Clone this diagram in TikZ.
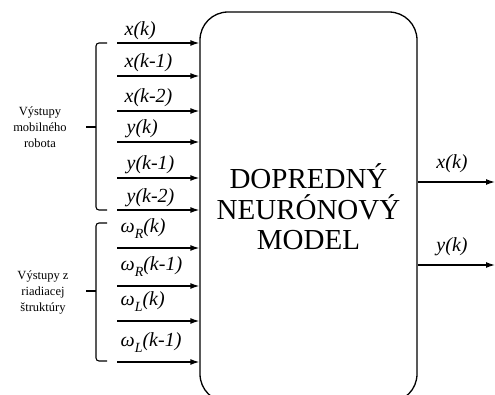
\documentclass[tikz,border=0pt]{standalone}
\usepackage{fontspec}
\setmainfont{Liberation Serif}
\usetikzlibrary{arrows.meta}
\newcommand{\wsub}[1]{\raisebox{-6pt}{\fontsize{14}{14}\selectfont #1}}

\begin{document}
\begin{tikzpicture}[x=1pt,y=-1pt,line width=1.3pt,
  >={Latex[length=9pt,width=6pt]},
  sig/.style={anchor=base west,inner sep=0pt,font=\fontsize{20}{20}\selectfont\itshape},
  grp/.style={align=center,inner sep=0pt,font=\fontsize{12.5}{16}\selectfont}]
\useasboundingbox (0,0) rectangle (495,394);
\clip (0,0) rectangle (495,394);
\node[draw,rounded corners=28pt,minimum width=217pt,minimum height=390pt,inner sep=0pt,
  align=center,font=\fontsize{29}{30.5}\selectfont] (model) at (308.5,207)
  {DOPREDNÝ\\NEURÓNOVÝ\\MODEL};
% vstupy
\coordinate (in1) at (117,43);
\coordinate (in2) at (117,76);
\coordinate (in3) at (117,111);
\coordinate (in4) at (117,142);
\coordinate (in5) at (117,178);
\coordinate (in6) at (117,210);
\coordinate (in7) at (117,248);
\coordinate (in8) at (117,286);
\coordinate (in9) at (117,321);
\coordinate (in10) at (117,362);
\draw[->] (in1) -- (in1 -| model.west);
\draw[->] (in2) -- (in2 -| model.west);
\draw[->] (in3) -- (in3 -| model.west);
\draw[->] (in4) -- (in4 -| model.west);
\draw[->] (in5) -- (in5 -| model.west);
\draw[->] (in6) -- (in6 -| model.west);
\draw[->] (in7) -- (in7 -| model.west);
\draw[->] (in8) -- (in8 -| model.west);
\draw[->] (in9) -- (in9 -| model.west);
\draw[->] (in10) -- (in10 -| model.west);
\node[sig] (lx0) at (124,35) {x(k)};
\node[sig] (lx1) at (124,67) {x(k-1)};
\node[sig] (lx2) at (124,102) {x(k-2)};
\node[sig] (ly0) at (126,133) {y(k)};
\node[sig] (ly1) at (126,169) {y(k-1)};
\node[sig] (ly2) at (126,202) {y(k-2)};
\node[sig] (lwr0) at (120,232) {ω\wsub{R}(k)};
\node[sig] (lwr1) at (120,270) {ω\wsub{R}(k-1)};
\node[sig] (lwl0) at (120,305) {ω\wsub{L}(k)};
\node[sig] (lwl1) at (120,346) {ω\wsub{L}(k-1)};
% zatvorky
\draw[line width=1.1pt,rounded corners=3pt] (107,43) -- (96,43) -- (96,210) -- (107,210);
\draw[line width=1.1pt] (96,127) -- (86,127);
\draw[line width=1.1pt,rounded corners=3pt] (107,223) -- (96,223) -- (96,361) -- (107,361);
\draw[line width=1.1pt] (96,291) -- (86,291);
\node[grp] (rob) at (40,127) {Výstupy\\mobilného\\robota};
\node[grp] (ria) at (43,292) {Výstupy z\\riadiacej\\štruktúry};
% vystupy
\coordinate (outx) at (495,182);
\coordinate (outy) at (495,265);
\draw[->] (outx -| model.east) -- (outx);
\draw[->] (outy -| model.east) -- (outy);
\node[sig,anchor=base] (lox) at (452,168) {x(k)};
\node[sig,anchor=base] (loy) at (452,251) {y(k)};
\end{tikzpicture}
\end{document}
